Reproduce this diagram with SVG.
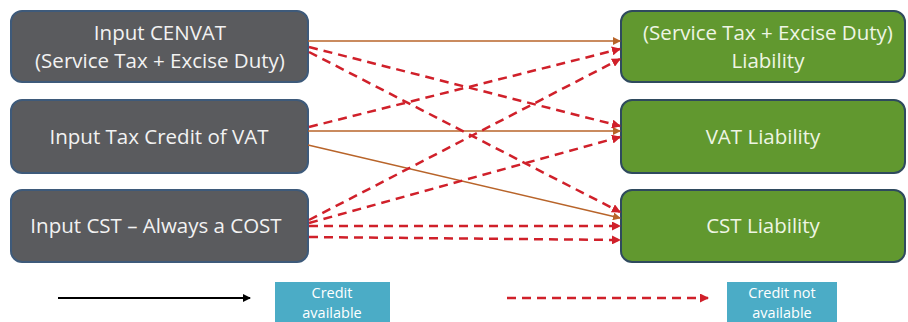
<svg xmlns="http://www.w3.org/2000/svg" width="908" height="322" viewBox="0 0 908 322">
<defs>
<marker id="ab" markerWidth="8" markerHeight="8" refX="7" refY="4" orient="auto" markerUnits="userSpaceOnUse"><path d="M0,0 L8,4 L0,8 z" fill="#b8642a"/></marker>
<marker id="ar" markerWidth="9" markerHeight="9" refX="8" refY="4.5" orient="auto" markerUnits="userSpaceOnUse"><path d="M0,0 L9,4.5 L0,9 z" fill="#d0202a"/></marker>
<marker id="ak" markerWidth="8" markerHeight="8" refX="7" refY="4" orient="auto" markerUnits="userSpaceOnUse"><path d="M0,0 L8,4 L0,8 z" fill="#000"/></marker>
</defs>
<style>
.lb{fill:#5a5b5e;stroke:#3e5a7a;stroke-width:2}
.rb{fill:#61982f;stroke:#2f4a5e;stroke-width:2}
.t{font-family:"Open Sans","Liberation Sans",sans-serif;font-size:20.5px;text-anchor:middle}
.tl{fill:#f2f2f2}
.tr{fill:#eef5e4}
.s{stroke:#b8642a;stroke-width:1.5;fill:none;marker-end:url(#ab)}
.d{stroke:#d0202a;stroke-width:2.5;fill:none;stroke-dasharray:9,6;marker-end:url(#ar)}
.lg{fill:#4bacc6}
.lt{font-family:"Open Sans","Liberation Sans",sans-serif;font-size:14.5px;fill:#fff;text-anchor:middle}
</style>
<rect width="908" height="322" fill="#fff"/>
<g id="left1"><rect class="lb" x="11" y="11" width="297" height="71" rx="11"/><text class="t tl" x="160" y="40">Input CENVAT</text><text class="t tl" x="160" y="68">(Service Tax + Excise Duty)</text></g>
<g id="left2"><rect class="lb" x="11" y="100" width="297" height="73" rx="11"/><text class="t tl" x="159" y="144">Input Tax Credit of VAT</text></g>
<g id="left3"><rect class="lb" x="11" y="190" width="297" height="72" rx="11"/><text class="t tl" x="156" y="233">Input CST – Always a COST</text></g>
<g id="right1"><rect class="rb" x="621" y="11" width="284" height="71" rx="11"/><text class="t tr" x="768" y="40">(Service Tax + Excise Duty)</text><text class="t tr" x="768" y="68">Liability</text></g>
<g id="right2"><rect class="rb" x="621" y="100" width="284" height="73" rx="11"/><text class="t tr" x="763" y="144">VAT Liability</text></g>
<g id="right3"><rect class="rb" x="621" y="190" width="284" height="72" rx="11"/><text class="t tr" x="763" y="233">CST Liability</text></g>
<g id="connectors">
<line class="s" x1="308" y1="41" x2="620" y2="41"/>
<line class="s" x1="308" y1="131" x2="620" y2="131"/>
<line class="s" x1="308" y1="145" x2="620" y2="218"/>
<line class="d" x1="309" y1="47" x2="620" y2="126"/>
<line class="d" x1="309" y1="52" x2="620" y2="212"/>
<line class="d" x1="309" y1="127" x2="620" y2="49"/>
<line class="d" x1="309" y1="220" x2="620" y2="59"/>
<line class="d" x1="309" y1="223" x2="620" y2="137"/>
<line class="d" x1="309" y1="226" x2="620" y2="226"/>
<line class="d" x1="309" y1="237" x2="620" y2="240"/>
</g>
<g id="legend">
<line x1="58" y1="298" x2="250" y2="298" stroke="#000" stroke-width="2" marker-end="url(#ak)"/>
<rect class="lg" x="275" y="282" width="115" height="42"/>
<text class="lt" x="332" y="298">Credit</text><text class="lt" x="332" y="318">available</text>
<line x1="507" y1="298" x2="708" y2="298" stroke="#d0202a" stroke-width="2.5" stroke-dasharray="9,6" marker-end="url(#ar)"/>
<rect class="lg" x="727" y="282" width="110" height="42"/>
<text class="lt" x="782" y="298">Credit not</text><text class="lt" x="782" y="318">available</text>
</g>
</svg>
